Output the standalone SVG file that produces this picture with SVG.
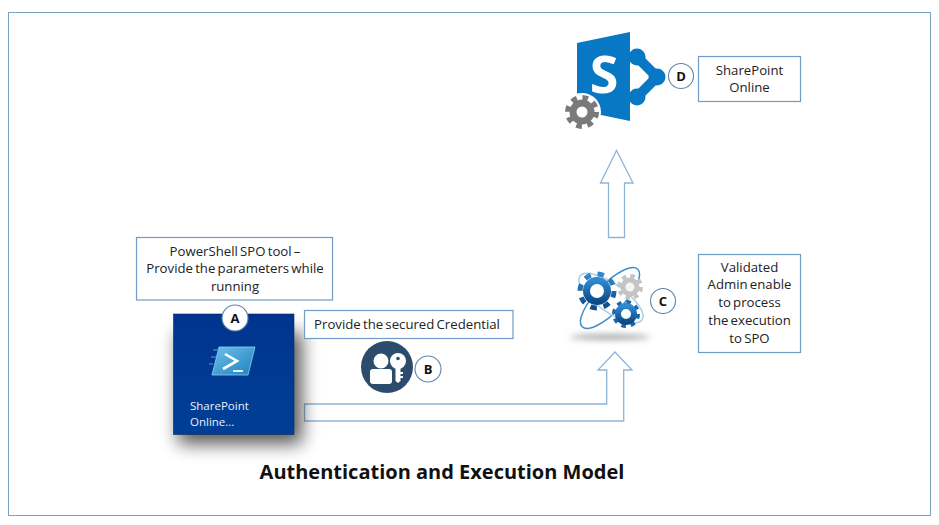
<svg xmlns="http://www.w3.org/2000/svg" width="939" height="525" viewBox="0 0 939 525">
<style>
.box{fill:#fff;stroke:#6f9bc4;stroke-width:1.2}
.arrow{fill:#fff;stroke:#8fb4d6;stroke-width:1.3;stroke-linejoin:miter}
.badge{fill:#fff;stroke:#5f86aa;stroke-width:1.1}
.t{font-family:"Open Sans","Liberation Sans",sans-serif;font-size:13.2px;fill:#222;text-anchor:middle;word-spacing:-1.2px}
.b{font-family:"Open Sans","Liberation Sans",sans-serif;font-size:13px;font-weight:700;fill:#111;text-anchor:middle}
</style>
<defs>
<filter id="sh" x="-40%" y="-40%" width="180%" height="180%"><feGaussianBlur stdDeviation="9"/></filter>
<filter id="soft" x="-20%" y="-200%" width="140%" height="500%"><feGaussianBlur stdDeviation="3"/></filter>
<linearGradient id="tile" x1="0" y1="0" x2="0" y2="1"><stop offset="0" stop-color="#00348f"/><stop offset="1" stop-color="#003f96"/></linearGradient>
<linearGradient id="ps" x1="0" y1="0" x2="1" y2="1"><stop offset="0" stop-color="#6cc3ea"/><stop offset="1" stop-color="#1f7fc0"/></linearGradient>
<linearGradient id="gb" x1="0" y1="0" x2="0" y2="1"><stop offset="0" stop-color="#2e8ad0"/><stop offset="1" stop-color="#0d4a86"/></linearGradient>
</defs>
<rect x="8.500" y="12.500" width="922" height="503" fill="#fff" stroke="#7aa3c6" stroke-width="1"/>

<g id="connectors">
<path class="arrow" d="M304.500 404H606.700V370H598L615 352L632 370H623.700V421H304.500Z"/>
<path class="arrow" d="M608.500 237.500V183H600.500L616.500 150.500L633 183H624.500V237.500Z"/>
</g>

<g id="node-a">
<rect class="box" x="136.500" y="237.500" width="196" height="62.500"/>
<text class="t" x="235" y="256">PowerShell SPO tool –</text>
<text class="t" x="235" y="273">Provide the parameters while</text>
<text class="t" x="235" y="291">running</text>
<rect x="178" y="332" width="124" height="112" fill="#000" opacity="0.65" filter="url(#sh)"/>
<rect x="173.500" y="314" width="120.500" height="120.500" fill="url(#tile)" stroke="#0a2a5e" stroke-width="0.6"/>
<path d="M219 347H255L248 375H212Z" fill="url(#ps)" stroke="#8fd0ee" stroke-width="0.8"/>
<path d="M213 350h6M211 357h5M209 364h4" stroke="#5a9fd4" stroke-width="2" opacity="0.5"/>
<path d="M225 354L237 361L223 369" fill="none" stroke="#fff" stroke-width="2.600"/>
<path d="M233 371H243" stroke="#e4f3fb" stroke-width="2"/>
<text x="190" y="410" font-family="'Open Sans','Liberation Sans',sans-serif" font-size="11.500" fill="#e8f0fa">SharePoint</text>
<text x="190" y="426" font-family="'Open Sans','Liberation Sans',sans-serif" font-size="11.500" fill="#e8f0fa">Online...</text>
<circle class="badge" cx="235" cy="318" r="13"/>
<text class="b" x="235" y="323">A</text>
</g>

<g id="node-b">
<rect class="box" x="304.500" y="310.500" width="208.500" height="28"/>
<text class="t" x="407" y="329">Provide the secured Credential</text>
<circle cx="387" cy="367" r="26" fill="#2c4c6e"/>
<circle cx="381" cy="361" r="7.500" fill="#fff"/>
<rect x="370" y="369" width="22" height="15" rx="3" fill="#fff"/>
<circle cx="398" cy="361" r="8" fill="#fff"/>
<circle cx="398" cy="358.500" r="1.800" fill="#2c4c6e"/>
<path d="M395.500 366H400.500V372H403V374H400.500V376H403V378H400.500V381L398 383L395.500 381Z" fill="#fff"/>
<circle class="badge" cx="428" cy="369" r="13"/>
<text class="b" x="428" y="374">B</text>
</g>

<g id="node-c">
<ellipse cx="610" cy="337" rx="40" ry="2.500" fill="#9a9a9a" filter="url(#soft)"/>
<ellipse cx="610" cy="298" rx="40" ry="14" fill="none" stroke="#3f8fc4" stroke-width="1.500" transform="rotate(-46 610 298)"/>
<ellipse cx="611" cy="298" rx="38" ry="14" fill="none" stroke="#a9cfe6" stroke-width="1.500" transform="rotate(35 611 298)"/>
<circle cx="597" cy="291" r="17" fill="none" stroke="url(#gb)" stroke-width="5" stroke-dasharray="6.500 6.850"/>
<circle cx="597" cy="291" r="10.500" fill="#fff" stroke="url(#gb)" stroke-width="7"/>
<circle cx="630" cy="287" r="11" fill="none" stroke="#c4c4c4" stroke-width="4" stroke-dasharray="4.500 4.140"/>
<circle cx="630" cy="287" r="7" fill="#f4f4f4" stroke="#c4c4c4" stroke-width="5"/>
<circle cx="626" cy="314" r="12" fill="none" stroke="#1a66a8" stroke-width="4" stroke-dasharray="4.500 4.920"/>
<circle cx="626" cy="314" r="8" fill="#fff" stroke="url(#gb)" stroke-width="6"/>
<circle class="badge" cx="663" cy="301" r="12.500"/>
<text class="b" x="663" y="306">C</text>
<rect class="box" x="698.500" y="254.500" width="102" height="98"/>
<text class="t" x="749.500" y="272">Validated</text>
<text class="t" x="749.500" y="289">Admin enable</text>
<text class="t" x="749.500" y="307">to process</text>
<text class="t" x="749.500" y="325">the execution</text>
<text class="t" x="749.500" y="343">to SPO</text>
</g>

<g id="node-d">
<path d="M637 57L657 77L637 97" fill="none" stroke="#0877c4" stroke-width="10"/>
<circle cx="637" cy="57" r="8.500" fill="#0877c4"/>
<circle cx="657" cy="77" r="8.500" fill="#0877c4"/>
<circle cx="637" cy="97" r="8.500" fill="#0877c4"/>
<path d="M577 43L630 32V121L577 110Z" fill="#0877c4"/>
<text x="604" y="93" font-family="'Open Sans','Liberation Sans',sans-serif" font-size="52" font-weight="700" fill="#fff" text-anchor="middle">S</text>
<circle cx="582" cy="112" r="19" fill="#fff"/>
<circle cx="582" cy="112" r="14" fill="none" stroke="#7a7a7a" stroke-width="6" stroke-dasharray="5.500 5.500"/>
<circle cx="582" cy="112" r="9" fill="#fff" stroke="#7a7a7a" stroke-width="7"/>
<circle class="badge" cx="681" cy="76" r="12.500"/>
<text class="b" x="681" y="81">D</text>
<rect class="box" x="698.500" y="56.500" width="102" height="45"/>
<text class="t" x="749.500" y="75">SharePoint</text>
<text class="t" x="749.500" y="92">Online</text>
</g>

<text id="title" x="442" y="479" font-family="'Open Sans','Liberation Sans',sans-serif" font-size="20" font-weight="700" fill="#111" text-anchor="middle">Authentication and Execution Model</text>
</svg>
